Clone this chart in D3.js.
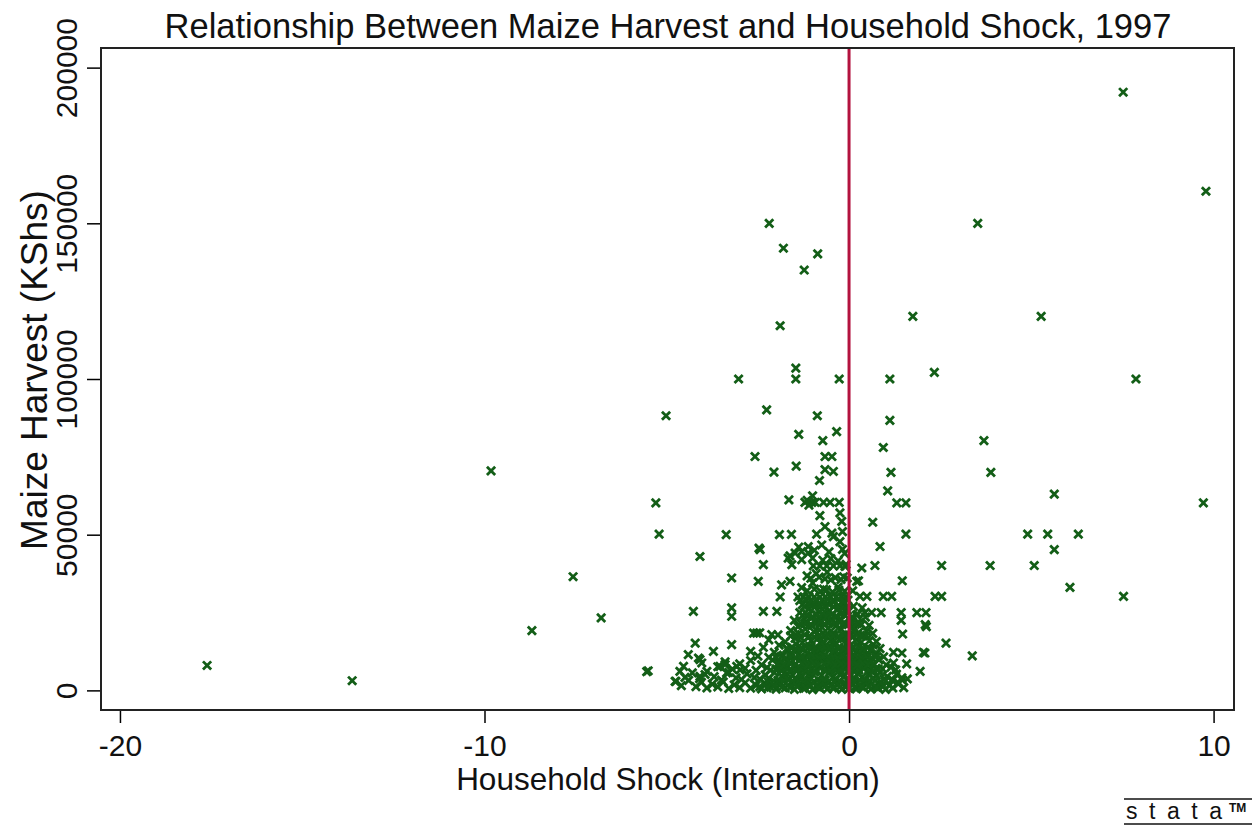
<!DOCTYPE html>
<meta charset="utf-8">
<style>
body { margin: 0; background: #fff; }
text { font-family: Arial, "Liberation Sans", sans-serif; }
.axis .domain { display: none; }
.axis line { stroke: #000; stroke-width: 1.5; }
</style>
<svg width="1257" height="830"></svg>
<script src="https://d3js.org/d3.v7.min.js"></script>
<script>

var xTicks = [-20, -10, 0, 10];
var yTicks = [0, 50000, 100000, 150000, 200000];

// far left outliers
var leftPoints = [
  [-17.61, 8000], [-13.63, 3100], [-9.82, 70500], [-7.57, 36500], [-8.70, 19200],
  [-6.80, 23300], [-5.30, 60200], [-5.21, 50200], [-5.51, 6300], [-5.55, 6000]
];

// upper part of the centre column
var upperPoints = [
  [-2.19, 150000], [-1.80, 142000], [-0.86, 140200], [-1.23, 135000], [-1.89, 117100],
  [-3.03, 100000], [-1.46, 103500], [-1.46, 100000], [-0.27, 100000], [-5.02, 88200],
  [-2.26, 90100], [-0.87, 88200], [-1.38, 82200], [-0.34, 83100], [-0.72, 80200],
  [-2.58, 75100], [-0.66, 75100], [-0.47, 75100], [-2.06, 70100], [-1.45, 72000],
  [-0.66, 70900], [-0.43, 70300], [-0.81, 67400], [-1.65, 61200], [-1.00, 62500],
  [-1.21, 60400], [-1.02, 60400], [-0.93, 60400], [-0.70, 60400], [-0.52, 60400],
  [-0.27, 60400], [-1.10, 59500], [-1.15, 61000], [-0.25, 57000], [-0.80, 56100],
  [-0.20, 54300], [-1.58, 50100], [-0.89, 50200], [-0.66, 52600], [-0.47, 50500],
  [-0.43, 49400], [-0.25, 47800], [-1.12, 46200], [-0.75, 46700], [-1.38, 46000],
  [-2.47, 45700], [-3.37, 50000], [-1.91, 50000], [-4.09, 43000], [-2.44, 45200],
  [-1.67, 42500], [-1.30, 44600], [-1.12, 44100], [-1.48, 44100], [-1.62, 43200],
  [-0.98, 40000], [-0.80, 40000], [-0.61, 40000], [-0.43, 40000], [-0.25, 40000],
  [-0.11, 39800], [-0.08, 40500], [-1.57, 40400], [-2.35, 40400],
  [-1.85, 33900], [-1.62, 35000], [-2.49, 35000], [-3.22, 36100], [-1.30, 33000],
  [-1.00, 34500], [-0.70, 32500], [-0.50, 35500], [-0.30, 33200], [-0.15, 36500],
  [-0.90, 37500], [-0.60, 38000], [-1.15, 36800], [-0.12, 44000], [-0.18, 51000]
];

// right of the zero line
var rightPoints = [
  [7.52, 192100], [9.79, 160300], [3.53, 150000], [1.75, 120100], [5.27, 120100],
  [1.12, 100000], [2.34, 102100], [7.87, 100000], [1.12, 86700], [3.70, 80200],
  [0.94, 78000], [1.15, 70000], [3.89, 70000], [1.06, 64100], [1.31, 60200],
  [1.56, 60200], [5.63, 63000], [9.72, 60200], [0.65, 54000], [1.56, 50200],
  [4.90, 50200], [5.45, 50200], [6.29, 50200], [5.63, 45200], [0.85, 46200],
  [0.35, 39300], [0.71, 40100], [2.54, 40100], [3.87, 40100], [5.08, 40100],
  [0.26, 35200], [1.46, 35200], [0.21, 35000], [6.06, 33100], [7.53, 30200],
  [0.30, 30200], [0.49, 30200], [0.94, 30200], [1.17, 30200], [2.36, 30200],
  [2.54, 30200], [0.44, 25000], [0.88, 25000], [1.43, 25000], [1.43, 22500],
  [1.86, 25000], [2.11, 25000], [2.09, 21100], [2.12, 20500], [1.47, 18100],
  [2.66, 15200], [2.04, 12200], [2.08, 12000], [3.38, 11100], [1.22, 12200],
  [1.45, 12000], [1.22, 8800], [1.58, 8500], [1.95, 6100], [1.46, 3400],
  [1.17, 3400], [1.35, 2400], [0.12, 27000], [0.10, 32000]
];

// the dense mass near zero
var clusterPoints = [
  [-4.75, 2900], [-4.60, 1500], [-4.40, 3200], [-4.20, 1200], [-4.05, 2600], [-3.90, 800],
  [-3.75, 2000], [-3.60, 1100], [-3.45, 2700], [-3.30, 600], [-3.15, 1800], [-3.00, 900],
  [-2.85, 2400], [-2.70, 700], [-2.55, 1600], [-2.40, 500], [-2.30, 2200], [-2.15, 1000],
  [-2.00, 400], [-1.90, 1900], [-1.75, 800], [-1.60, 2500], [-1.50, 300], [-1.40, 1400],
  [-1.25, 600], [-1.15, 2100], [-1.00, 200], [-0.90, 1300], [-0.80, 700], [-0.70, 2300],
  [-0.60, 400], [-0.50, 1600], [-0.40, 900], [-0.30, 2000], [-0.20, 300], [-0.10, 1200],
  [0.00, 600], [0.10, 2200], [0.20, 500], [0.30, 1500], [0.40, 900], [0.50, 2400],
  [0.60, 400], [0.70, 1300], [0.80, 700], [0.90, 1800], [1.00, 300], [1.10, 1500],
  [1.20, 800], [1.35, 2100], [1.50, 900],
  [-4.50, 4200], [-4.30, 5600], [-4.10, 3800], [-3.95, 5100], [-3.70, 4400], [-3.50, 3300],
  [-3.30, 5800], [-3.10, 4000], [-2.95, 3500], [-2.80, 5300], [-2.60, 4100], [-2.45, 3600],
  [-2.30, 5000], [-2.20, 3900], [-2.05, 5700], [-1.95, 3200], [-1.85, 4600], [-1.70, 5400],
  [-1.65, 3700], [-1.55, 4900], [-1.45, 3400], [-1.35, 5500], [-1.30, 4300], [-1.20, 3100],
  [-1.10, 5200], [-1.05, 4000], [-0.95, 5900], [-0.85, 3500], [-0.75, 4800], [-0.65, 3300],
  [-0.55, 5600], [-0.45, 4200], [-0.35, 3600], [-0.25, 5100], [-0.15, 4400], [-0.05, 3200],
  [0.05, 5000], [0.15, 3800], [0.25, 5500], [0.35, 4100], [0.45, 3400], [0.55, 5300],
  [0.65, 3900], [0.75, 4700], [0.85, 5800], [0.95, 3600], [1.05, 4500], [1.20, 3300],
  [1.30, 5200], [1.45, 4000], [1.60, 3700],
  [-3.60, 7600], [-3.40, 9200], [-3.20, 6800], [-3.00, 8500], [-2.85, 7100], [-2.70, 9600],
  [-2.55, 6400], [-2.40, 8200], [-2.25, 7300], [-2.10, 9800], [-2.00, 6600], [-1.90, 8800],
  [-1.80, 7500], [-1.70, 9400], [-1.60, 6200], [-1.50, 8000], [-1.42, 7000], [-1.35, 9900],
  [-1.25, 6700], [-1.18, 8600], [-1.10, 7800], [-1.02, 9300], [-0.95, 6300], [-0.88, 8400],
  [-0.80, 7200], [-0.72, 9700], [-0.65, 6900], [-0.58, 8100], [-0.50, 7400], [-0.42, 9500],
  [-0.35, 6500], [-0.28, 8700], [-0.20, 7700], [-0.12, 9100], [-0.05, 6100], [0.03, 8300],
  [0.10, 7300], [0.18, 9600], [0.26, 6800], [0.34, 8900], [0.42, 7600], [0.50, 9200],
  [0.58, 6400], [0.66, 8500], [0.74, 7100], [0.82, 9800], [0.92, 6900], [1.02, 8200],
  [1.15, 7400], [1.28, 6600],
  [-2.70, 12500], [-2.50, 11000], [-2.35, 13800], [-2.20, 10600], [-2.05, 12200], [-1.92, 14500],
  [-1.80, 11300], [-1.70, 13200], [-1.60, 10400], [-1.52, 12800], [-1.45, 14900], [-1.38, 11600],
  [-1.30, 13500], [-1.22, 10200], [-1.15, 12000], [-1.08, 14200], [-1.00, 11000], [-0.93, 13000],
  [-0.86, 10700], [-0.80, 12600], [-0.73, 14700], [-0.66, 11500], [-0.60, 13700], [-0.53, 10300],
  [-0.46, 12300], [-0.40, 14400], [-0.33, 11200], [-0.27, 13300], [-0.20, 10500], [-0.13, 12700],
  [-0.07, 14800], [0.00, 11400], [0.07, 13600], [0.14, 10900], [0.21, 12400], [0.28, 14100],
  [0.35, 11100], [0.42, 13100], [0.50, 10600], [0.58, 12900], [0.66, 14600], [0.75, 11700],
  [0.85, 13400], [0.95, 10800],
  [-2.45, 18500], [-2.20, 16200], [-1.95, 17800], [-1.75, 15600], [-1.60, 19200], [-1.48, 16700],
  [-1.38, 18200], [-1.28, 15300], [-1.20, 19700], [-1.12, 17100], [-1.04, 15900], [-0.96, 18800],
  [-0.88, 16400], [-0.80, 19400], [-0.72, 15500], [-0.65, 17600], [-0.58, 19900], [-0.50, 16100],
  [-0.43, 18400], [-0.36, 15200], [-0.29, 17300], [-0.22, 19600], [-0.15, 16600], [-0.08, 18100],
  [-0.02, 15800], [0.05, 17700], [0.12, 19300], [0.19, 16300], [0.26, 18600], [0.33, 15400],
  [0.40, 17500], [0.48, 19000], [0.56, 16000], [0.65, 18300], [0.75, 15700],
  [-1.50, 22500], [-1.40, 20500], [-1.35, 25000], [-1.28, 27500], [-1.22, 21500], [-1.15, 23800],
  [-1.10, 26200], [-1.02, 20800], [-0.97, 28000], [-0.92, 24500], [-0.86, 22000], [-0.80, 26800],
  [-0.75, 20300], [-0.70, 24000], [-0.64, 27000], [-0.58, 21800], [-0.53, 25500], [-0.47, 23000],
  [-0.42, 28500], [-0.36, 20600], [-0.31, 26000], [-0.25, 22800], [-0.20, 24800], [-0.14, 27800],
  [-0.09, 21200], [-0.04, 25800], [0.04, 22300], [0.12, 20400], [0.20, 24200], [0.28, 21600],
  [0.36, 26500], [0.45, 23500], [0.55, 20900], [0.62, 25000],
  [-1.40, 30000], [-1.25, 30000], [-1.10, 30000], [-0.95, 30000], [-0.80, 30000], [-0.65, 30000],
  [-0.50, 30000], [-0.35, 30000], [-0.20, 30000], [-0.08, 30000], [-1.89, 30000],
  [-3.22, 26500], [-3.22, 23800], [-4.27, 25400], [-2.35, 25400], [-1.98, 25400],
  [-2.62, 18400], [-2.53, 18400], [-2.12, 17900], [-4.22, 15200], [-3.72, 12500], [-3.22, 14700],
  [-4.41, 11500], [-4.09, 9900], [-4.13, 10400], [-4.04, 8800], [-3.40, 8300], [-4.64, 6100],
  [-4.77, 2900], [-4.54, 7700], [-3.54, 7700], [-3.36, 5600], [-2.99, 6600], [-3.90, 6100],
  [-4.09, 4500], [-3.08, 7700]
];

// extra points filling the solid core
var corePoints = [
  [-2.22, 2800], [-2.08, 3100], [-1.94, 2600], [-1.80, 2900], [-1.66, 3300], [-1.52, 2700],
  [-1.38, 3000], [-1.24, 2500], [-1.10, 3200], [-0.96, 2800], [-0.82, 2600], [-0.68, 3100],
  [-0.54, 2900], [-0.40, 2700], [-0.26, 3000], [-0.12, 2600], [0.02, 3300], [0.16, 2800],
  [0.30, 3100], [0.44, 2500], [0.58, 2900], [0.72, 3200], [0.86, 2700], [1.00, 3000],
  [-2.15, 6500], [-2.00, 6900], [-1.85, 6200], [-1.72, 7100], [-1.58, 6600], [-1.45, 6300],
  [-1.32, 7000], [-1.18, 6400], [-1.05, 6800], [-0.92, 6100], [-0.78, 7200], [-0.65, 6600],
  [-0.52, 6300], [-0.38, 6900], [-0.25, 6500], [-0.12, 7100], [0.00, 6200], [0.13, 6700],
  [0.27, 6400], [0.40, 7000], [0.54, 6600], [0.68, 6300], [0.80, 6800],
  [-2.00, 10500], [-1.86, 10900], [-1.73, 10200], [-1.60, 11100], [-1.47, 10400], [-1.34, 10800],
  [-1.21, 10100], [-1.08, 11300], [-0.95, 10600], [-0.82, 10300], [-0.69, 11000], [-0.56, 10500],
  [-0.43, 10700], [-0.30, 10200], [-0.17, 11200], [-0.04, 10400], [0.09, 10900], [0.22, 10600],
  [0.35, 10300], [0.48, 11000], [0.61, 10500], [0.74, 10800],
  [-1.70, 13500], [-1.57, 13900], [-1.44, 13200], [-1.31, 13700], [-1.18, 14100], [-1.05, 13300],
  [-0.92, 13800], [-0.79, 13400], [-0.66, 14000], [-0.53, 13600], [-0.40, 13100], [-0.27, 13900],
  [-0.14, 13500], [-0.01, 13200], [0.12, 13800], [0.25, 14100], [0.38, 13400], [0.51, 13700],
  [0.64, 13300],
  [-1.60, 17500], [-1.47, 17900], [-1.34, 17200], [-1.21, 17800], [-1.08, 17400], [-0.95, 17100],
  [-0.82, 17700], [-0.69, 17300], [-0.56, 18000], [-0.43, 17600], [-0.30, 17200], [-0.17, 17800],
  [-0.04, 17500], [0.09, 17100], [0.22, 17900], [0.35, 17400], [0.48, 17700],
  [-1.32, 21500], [-1.18, 21900], [-1.05, 21200], [-0.92, 21700], [-0.79, 22100], [-0.66, 21300],
  [-0.53, 21800], [-0.40, 21400], [-0.27, 22000], [-0.14, 21600], [-0.02, 21100], [0.10, 21900],
  [0.22, 21500], [0.34, 21200],
  [-1.28, 24000], [-1.14, 24400], [-1.00, 23700], [-0.87, 24200], [-0.74, 24600], [-0.61, 23800],
  [-0.48, 24300], [-0.35, 23900], [-0.22, 24500], [-0.10, 24100], [0.08, 23600], [0.24, 24400],
  [-1.22, 27000], [-1.08, 27400], [-0.94, 26700], [-0.81, 27200], [-0.68, 26800], [-0.55, 27500],
  [-0.42, 26900], [-0.29, 27300], [-0.16, 26600], [-0.05, 27100],
  [-1.15, 32000], [-0.95, 32500], [-0.78, 31800], [-0.62, 32300], [-0.45, 31600], [-0.28, 32200],
  [-0.12, 31900], [-1.05, 36000], [-0.82, 36400], [-0.66, 35800], [-0.38, 36200], [-0.22, 35600],
  [-0.05, 36100], [-1.30, 42000], [-1.00, 42500], [-0.72, 41800], [-0.50, 42300], [-0.30, 41600],
  [-0.95, 45000], [-0.55, 44500], [-0.18, 45300],
  [-1.35, 28800], [-1.20, 29300], [-1.05, 28600], [-0.90, 29100], [-0.75, 28900], [-0.60, 29400],
  [-0.45, 28700], [-0.30, 29200], [-0.15, 28500], [-0.03, 29000],
  [-2.45, 1200], [-2.25, 800], [-2.05, 1500], [-1.83, 1100], [-1.62, 900], [-1.43, 1300],
  [-1.20, 700], [-1.05, 1600], [-0.85, 1000], [-0.65, 1400], [-0.45, 800], [-0.25, 1200],
  [-0.05, 1500], [0.15, 900], [0.35, 1100], [0.55, 1300], [0.75, 1000], [0.95, 1400],
  [-1.95, 8600], [-1.78, 8200], [-1.62, 8900], [-1.47, 8400], [-1.30, 8700], [-1.13, 8100],
  [-0.97, 8800], [-0.83, 8300], [-0.67, 8500], [-0.52, 9000], [-0.37, 8200], [-0.22, 8600],
  [-0.08, 8400], [0.07, 8900], [0.22, 8100], [0.37, 8700], [0.52, 8300], [0.68, 8500]
];

var points = leftPoints.concat(upperPoints, rightPoints, clusterPoints, corePoints);

var svg = d3.select("svg");

var x = d3.scaleLinear().domain([-20.52, 10.56]).range([101, 1234]);
var y = d3.scaleLinear().domain([-6300, 206300]).range([710, 48]);

svg.append("rect")
    .attr("width", 1257).attr("height", 830).attr("fill", "#fff");

// title
svg.append("text")
    .attr("x", 668).attr("y", 38)
    .attr("text-anchor", "middle")
    .attr("font-size", 34.5)
    .attr("fill", "#111")
    .text("Relationship Between Maize Harvest and Household Shock, 1997");

// x axis
svg.append("g")
    .attr("class", "axis")
    .attr("transform", "translate(0,710)")
    .call(d3.axisBottom(x).tickValues(xTicks).tickSize(13).tickPadding(12)
      .tickFormat(function(d) { return String(d); }))
    .selectAll("text")
      .attr("font-size", 30)
      .attr("fill", "#111");

// y axis
var yAxis = svg.append("g")
    .attr("class", "axis")
    .attr("transform", "translate(101,0)")
    .call(d3.axisLeft(y).tickValues(yTicks).tickSize(14).tickFormat(function(d) { return String(d); }));

yAxis.selectAll("text")
    .attr("font-size", 30)
    .attr("fill", "#111")
    .attr("text-anchor", "middle")
    .attr("dy", 0)
    .attr("x", 0)
    .attr("transform", "translate(-24,0) rotate(-90)");

// axis titles
svg.append("text")
    .attr("x", 668).attr("y", 790)
    .attr("text-anchor", "middle")
    .attr("font-size", 31.5)
    .attr("fill", "#111")
    .text("Household Shock (Interaction)");

svg.append("text")
    .attr("transform", "translate(47,370) rotate(-90)")
    .attr("text-anchor", "middle")
    .attr("font-size", 37)
    .attr("fill", "#111")
    .text("Maize Harvest (KShs)");

// markers
svg.append("g")
  .selectAll("path")
  .data(points)
  .enter().append("path")
    .attr("transform", function(d) { return "translate(" + x(d[0]) + "," + y(d[1]) + ")"; })
    .attr("d", "M-4.1,-4.1L4.1,4.1M-4.1,4.1L4.1,-4.1")
    .attr("fill", "none")
    .attr("stroke", "#135e17")
    .attr("stroke-width", 2.8);

// vertical line at zero
svg.append("line")
    .attr("x1", x(0)).attr("x2", x(0))
    .attr("y1", 48).attr("y2", 710)
    .attr("stroke", "#b3123e")
    .attr("stroke-width", 3);

// plot frame
svg.append("rect")
    .attr("x", 101).attr("y", 48)
    .attr("width", 1133).attr("height", 662)
    .attr("fill", "none")
    .attr("stroke", "#222")
    .attr("stroke-width", 2);

// stata mark
var logo = svg.append("g").attr("transform", "translate(1124,0)");
logo.append("line").attr("x1", 0).attr("x2", 128).attr("y1", 799).attr("y2", 799)
    .attr("stroke", "#111").attr("stroke-width", 1.5);
logo.append("line").attr("x1", 0).attr("x2", 128).attr("y1", 824).attr("y2", 824)
    .attr("stroke", "#111").attr("stroke-width", 1.5);
logo.append("text")
    .attr("x", 2).attr("y", 819)
    .attr("font-family", "DejaVu Sans Mono, monospace")
    .attr("font-size", 23)
    .attr("textLength", 96)
    .attr("lengthAdjust", "spacing")
    .attr("fill", "#111")
    .text("stata");
logo.append("text")
    .attr("x", 105).attr("y", 812)
    .attr("font-family", "DejaVu Sans, sans-serif")
    .attr("font-size", 12)
    .attr("font-weight", "bold")
    .attr("fill", "#111")
    .text("TM");

</script>
